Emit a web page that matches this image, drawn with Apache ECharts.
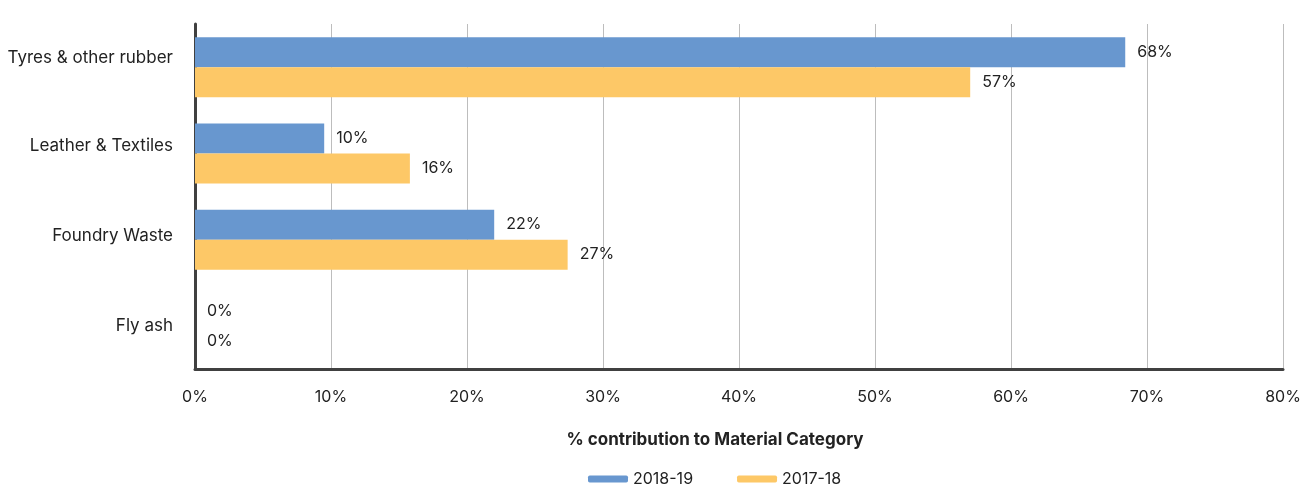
<!DOCTYPE html>
<html>
<head>
<meta charset="utf-8">
<script src="https://cdn.jsdelivr.net/npm/echarts@6/dist/echarts.min.js"></script>
<style>
html,body{margin:0;padding:0;background:#fff;}
#chart{width:1315px;height:486px;}
</style>
</head>
<body>
<div id="chart"></div>
<script>
const categories = ['Tyres & other rubber', 'Leather & Textiles', 'Foundry Waste', 'Fly ash'];
const series2018 = [68.4, 9.5, 22.0, 0];
const series2017 = [57.0, 15.8, 27.4, 0];
const seriesNames = ['2018-19', '2017-18'];
const axisTitle = '% contribution to Material Category';

const FONT = 'Inter, "Noto Sans", sans-serif';
const chart = echarts.init(document.getElementById('chart'));
const labelCfg = {
  show: true, position: 'right', distance: 12,
  color: '#222', fontSize: 16, fontFamily: FONT,
  formatter: p => Math.round(p.value) + '%'
};
// small upward nudges of the category labels, as in the reference
const nudge = [9, 7, 4, 0];
const rich = {};
nudge.forEach((n, i) => {
  rich['c' + i] = {fontSize: 17, color: '#222', fontFamily: FONT, padding: [0, 0, 2 * n, 0]};
});
chart.setOption({
  animation: false,
  textStyle: {fontFamily: FONT},
  grid: {left: 195, right: 32, top: 24, bottom: 117},
  legend: {
    top: 466, left: 583,
    itemWidth: 40, itemHeight: 7, itemGap: 44, icon: 'roundRect',
    textStyle: {fontSize: 16, color: '#222', fontFamily: FONT},
    data: seriesNames
  },
  xAxis: {
    type: 'value', min: 0, max: 80, interval: 10,
    axisLine: {show: true, lineStyle: {color: '#404040', width: 3}},
    axisTick: {show: false},
    splitLine: {show: true, lineStyle: {color: '#bdbdbd', width: 1}},
    axisLabel: {formatter: '{value}%', color: '#222', fontSize: 16, margin: 20, fontFamily: FONT},
    name: axisTitle, nameLocation: 'middle', nameGap: 62,
    nameTextStyle: {fontSize: 17, fontWeight: 'bold', color: '#222', padding: [0, 48, 0, 0], fontFamily: FONT}
  },
  yAxis: {
    type: 'category', inverse: true, data: categories,
    axisLine: {show: true, lineStyle: {color: '#404040', width: 3}},
    axisTick: {show: false},
    axisLabel: {
      color: '#222', fontSize: 17, margin: 22, fontFamily: FONT,
      formatter: (v, i) => '{c' + i + '|' + v + '}',
      rich: rich
    }
  },
  series: [
    {name: seriesNames[0], type: 'bar', data: series2018, barWidth: 30, barGap: '0%',
     itemStyle: {color: '#6897cf'}, label: labelCfg},
    {name: seriesNames[1], type: 'bar', data: series2017, barWidth: 30, barGap: '0%',
     itemStyle: {color: '#fdc867'}, label: labelCfg}
  ]
});
</script>
</body>
</html>
